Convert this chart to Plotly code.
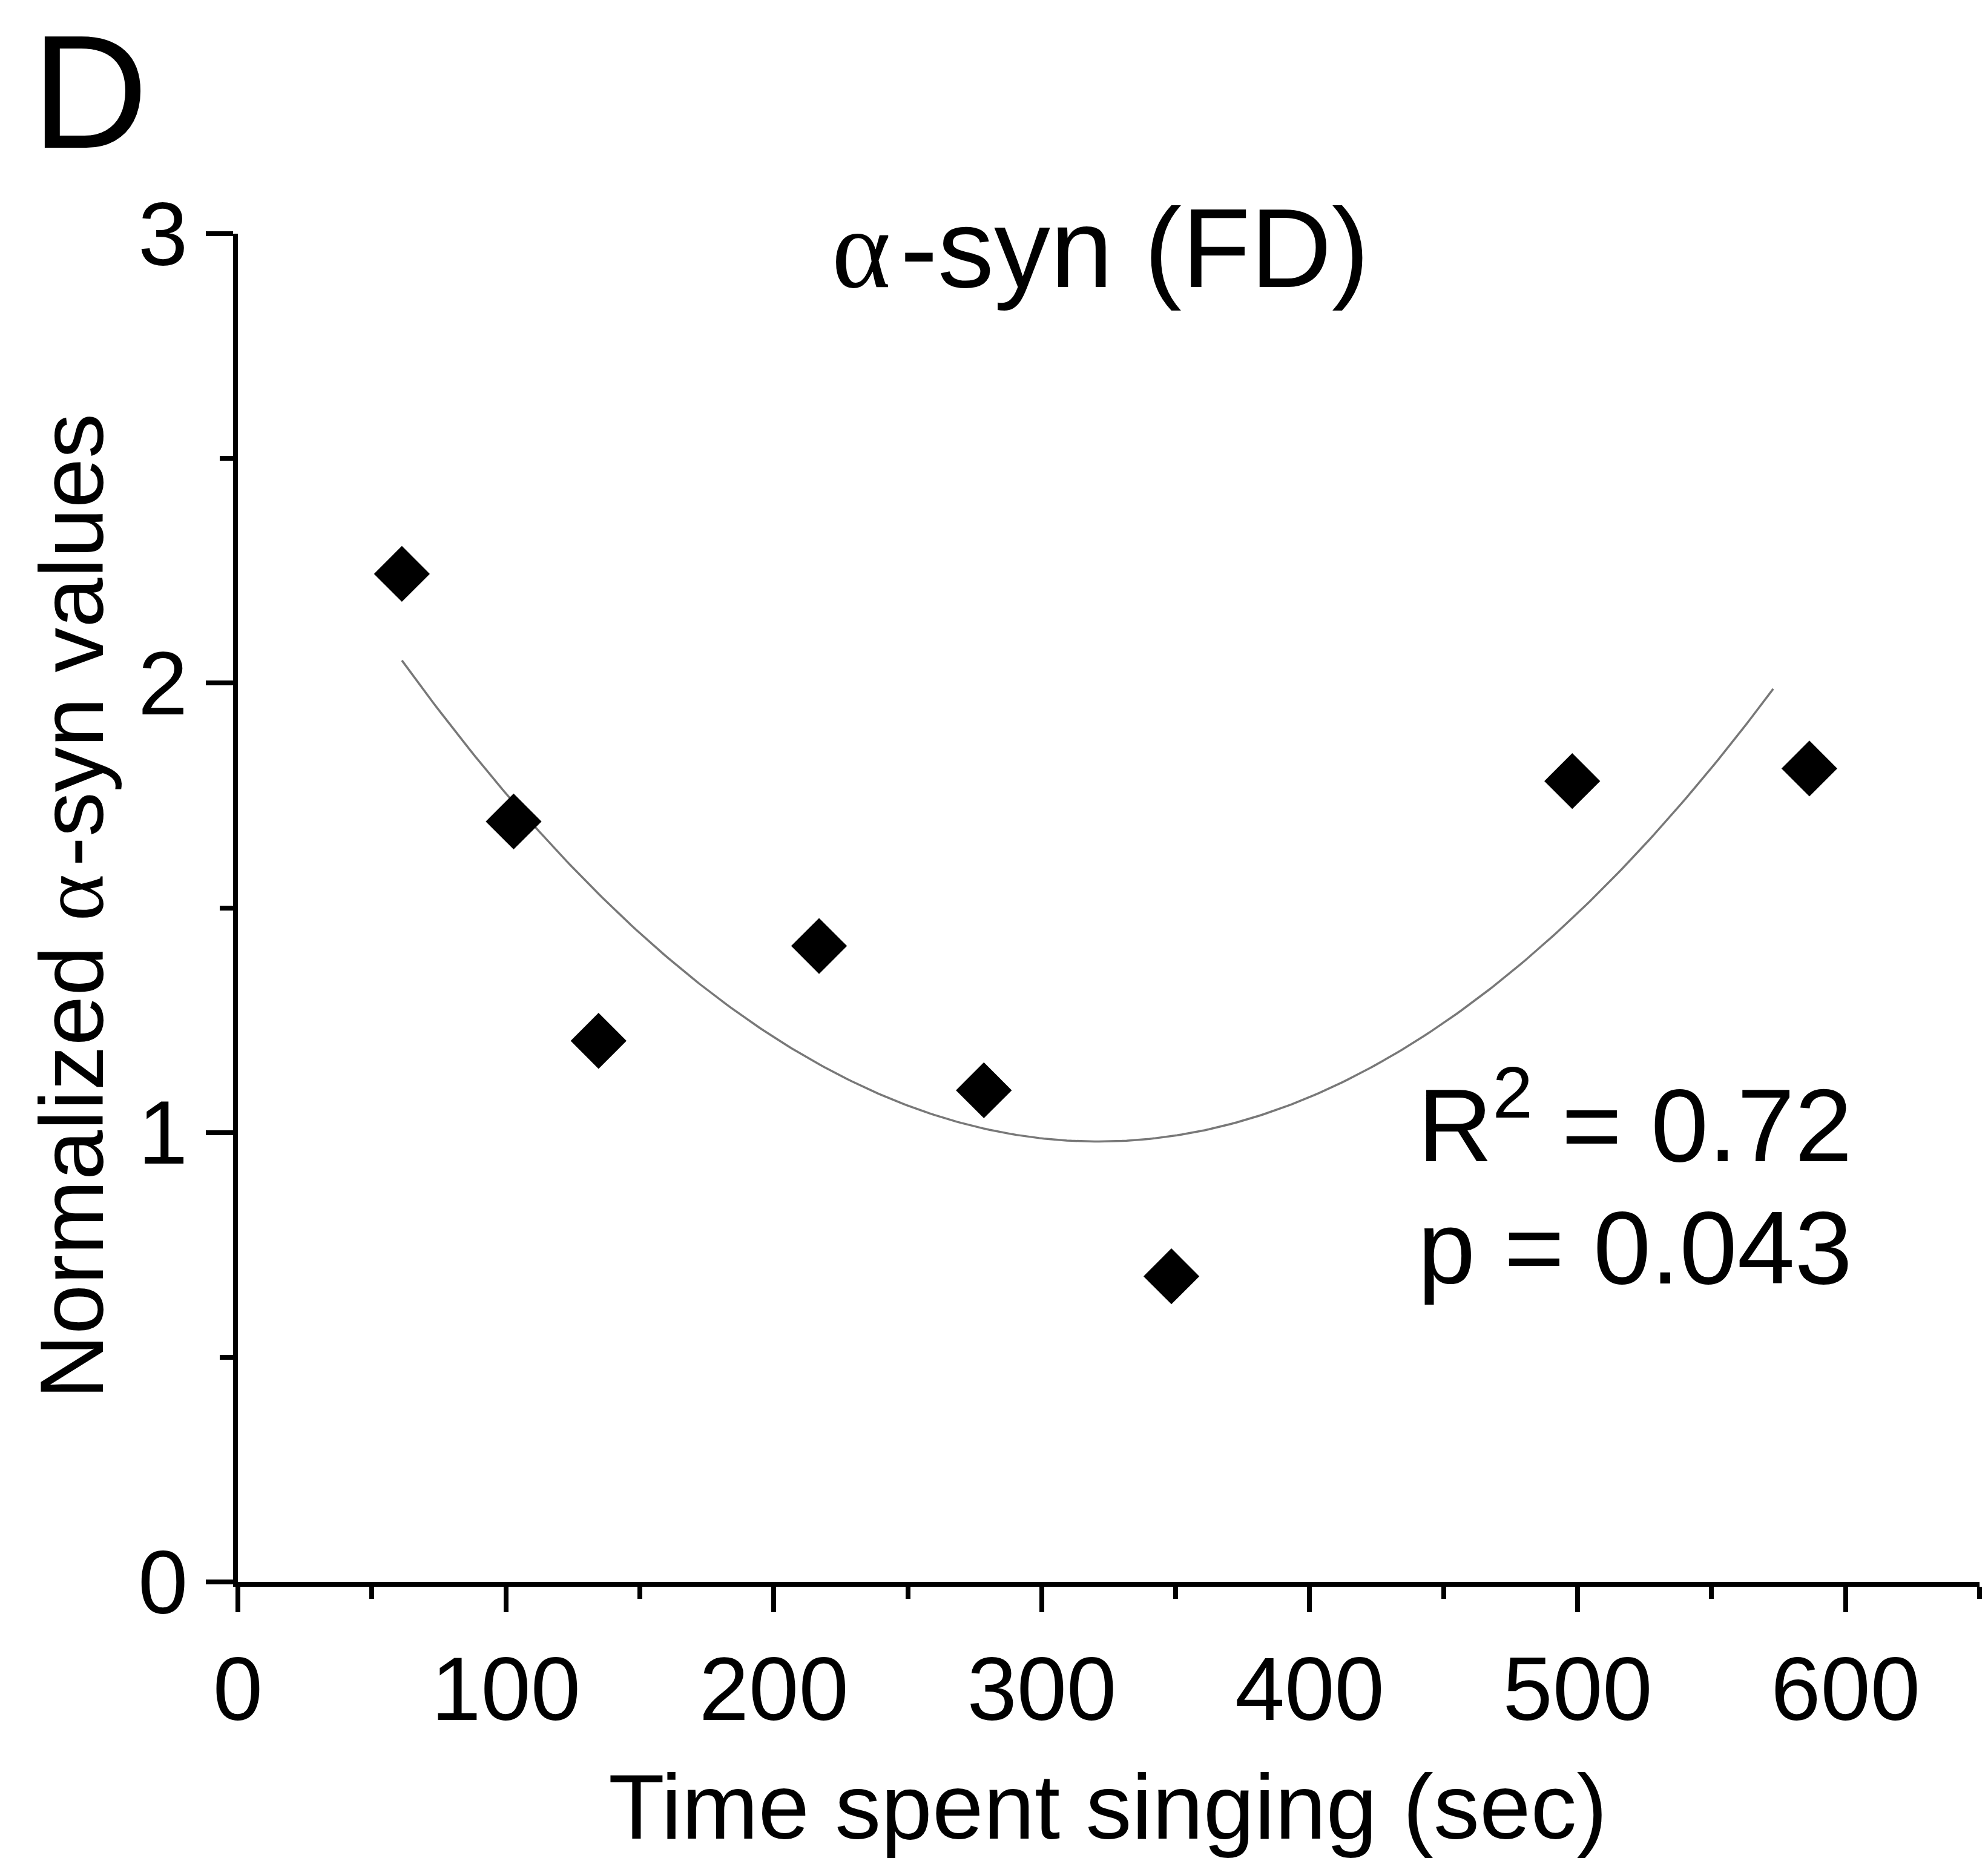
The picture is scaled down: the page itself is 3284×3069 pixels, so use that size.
import numpy as np
import plotly.graph_objects as go

# ---- data ----
time_sec = [61.2, 102.9, 134.6, 216.9, 278.4, 348.4, 498.0, 586.5]
asyn_values = [2.243, 1.692, 1.204, 1.415, 1.094, 0.680, 1.782, 1.810]
x_ticks = [0, 100, 200, 300, 400, 500, 600]
y_ticks = [0, 1, 2, 3]
r2_text = "R<sup>2</sup> = 0.72"
p_text = "p = 0.043"

# quadratic trendline as drawn in the reference:
# vertex position / minimum value / curvature, and the x span it covers
trend_vertex_x = 321.0
trend_min_y = 0.98
trend_curv = 1.586e-5
trend_x_span = [61.2, 573.0]

fit_x = np.linspace(trend_x_span[0], trend_x_span[1], 300)
fit_y = trend_min_y + trend_curv * (fit_x - trend_vertex_x) ** 2

W, H = 3284, 3069
L, R, T, B = 393, 14, 386, 456
PW, PH = W - L - R, H - T - B
FONT = "Liberation Sans, Arial, sans-serif"
ALPHA = '<span style="font-family:Liberation Serif">α</span>\u200a'


def px(xp):
    return (xp - L) / PW


def py(yp):
    return (H - B - yp) / PH


fig = go.Figure()
fig.add_trace(go.Scatter(x=fit_x, y=fit_y, mode="lines",
                         line=dict(color="rgb(120,120,120)", width=3.5),
                         hoverinfo="skip", showlegend=False))
fig.add_trace(go.Scatter(x=time_sec, y=asyn_values, mode="markers",
                         marker=dict(symbol="diamond", size=71, color="black",
                                     line=dict(width=0)),
                         showlegend=False))

axis_common = dict(showline=True, linewidth=8, linecolor="black",
                   ticks="outside", tickwidth=8, tickcolor="black",
                   showgrid=False, zeroline=False,
                   tickfont=dict(family=FONT, size=148, color="black"))

fig.update_xaxes(range=[0, 650], tickvals=x_ticks, ticklen=42,
                 minor=dict(dtick=50, ticks="outside", ticklen=20,
                            tickwidth=8, tickcolor="black"),
                 **axis_common)
fig.update_yaxes(range=[0, 3], tickvals=y_ticks, ticklen=45,
                 minor=dict(dtick=0.5, ticks="outside", ticklen=22,
                            tickwidth=8, tickcolor="black"),
                 **axis_common)

ann = []
ann.append(dict(text="D", x=px(50), y=py(151), xref="paper", yref="paper",
                xanchor="left", yanchor="middle", showarrow=False,
                font=dict(family=FONT, size=267, color="black")))
ann.append(dict(text=ALPHA + "-syn (FD)",
                x=px(1818), y=py(410), xref="paper", yref="paper",
                xanchor="center", yanchor="middle", showarrow=False,
                font=dict(family=FONT, size=186, color="black")))
ann.append(dict(text=r2_text, x=px(2340), y=py(1846), xref="paper", yref="paper",
                xanchor="left", yanchor="middle", showarrow=False,
                font=dict(family=FONT, size=171, color="black")))
ann.append(dict(text=p_text, x=px(2340), y=py(2060), xref="paper", yref="paper",
                xanchor="left", yanchor="middle", showarrow=False,
                font=dict(family=FONT, size=171, color="black")))
ann.append(dict(text="Time spent singing (sec)", x=px(1830), y=py(2984),
                xref="paper", yref="paper", xanchor="center", yanchor="middle",
                showarrow=False, font=dict(family=FONT, size=152, color="black")))
ann.append(dict(text="Normalized " + ALPHA + "-syn values",
                x=px(119), y=py(1497), xref="paper", yref="paper",
                xanchor="center", yanchor="middle", textangle=-90,
                showarrow=False, font=dict(family=FONT, size=148, color="black")))

fig.update_layout(width=W, height=H,
                  margin=dict(l=L, r=R, t=T, b=B, pad=0),
                  paper_bgcolor="white", plot_bgcolor="white",
                  annotations=ann, showlegend=False)

fig.write_html("out.html")
